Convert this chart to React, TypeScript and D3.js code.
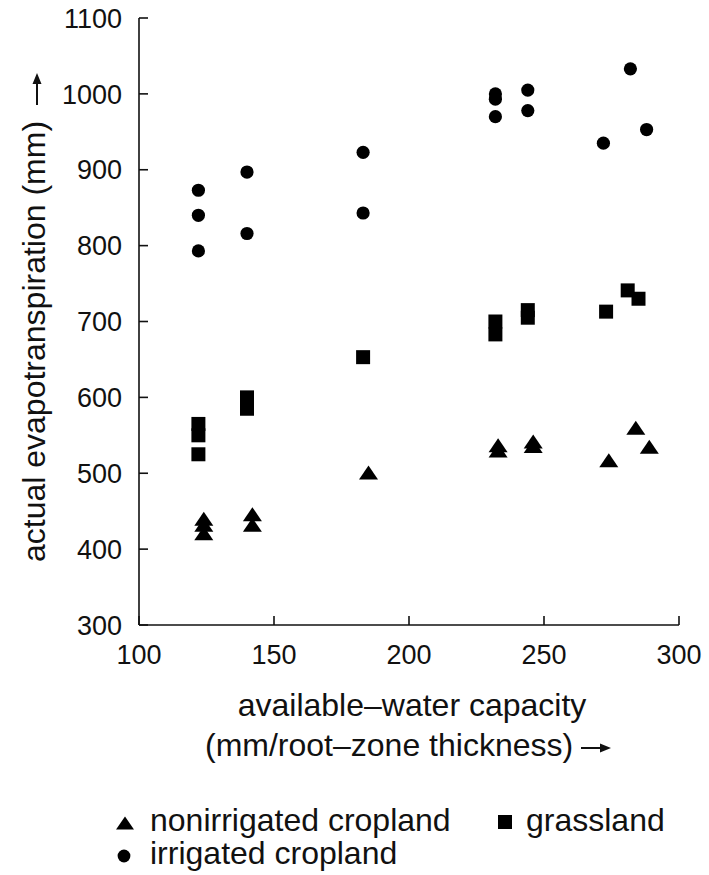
import React from "react";
import * as d3 from "d3";

const nonirrigatedX = [124, 124, 124, 142, 142, 185, 233, 233, 246, 246, 274, 284, 289];
const nonirrigatedY = [440, 432, 421, 446, 432, 501, 537, 530, 542, 536, 517, 560, 535];
const grasslandX = [122, 122, 122, 140, 140, 183, 232, 232, 244, 244, 273, 281, 285];
const grasslandY = [565, 550, 525, 600, 585, 653, 700, 683, 715, 705, 713, 741, 730];
const irrigatedX = [122, 122, 122, 140, 140, 183, 183, 232, 232, 232, 244, 244, 272, 282, 288];
const irrigatedY = [873, 840, 793, 897, 816, 923, 843, 1000, 993, 970, 1005, 978, 935, 1033, 953];

const xTicks = [100, 150, 200, 250, 300];
const yTicks = [300, 400, 500, 600, 700, 800, 900, 1000, 1100];

const W = 709, H = 875;
const FONT = "'Liberation Sans', Arial, Helvetica, sans-serif";

const x = d3.scaleLinear().domain([100, 300]).range([139, 679]);
const y = d3.scaleLinear().domain([300, 1100]).range([625, 18]);

function flatTriangle(w: number, h: number) {
  return {
    draw(ctx: any) {
      ctx.moveTo(0, -h / 2);
      ctx.lineTo(w / 2, h / 2);
      ctx.lineTo(-w / 2, h / 2);
      ctx.closePath();
    },
  };
}

const triPath = d3.symbol().type(flatTriangle(19, 14) as any)() as string;
const sqPath = d3.symbol().type(d3.symbolSquare).size(14 * 14)() as string;
const circPath = d3.symbol().type(d3.symbolCircle).size(Math.PI * 6.6 * 6.6)() as string;
const triLeg = d3.symbol().type(flatTriangle(18, 13) as any)() as string;
const sqLeg = d3.symbol().type(d3.symbolSquare).size(14 * 14)() as string;
const circLeg = d3.symbol().type(d3.symbolCircle).size(Math.PI * 6.4 * 6.4)() as string;

// arrow pointing right, starting at (0,0), of given length
function arrowRight(len: number) {
  const p = d3.path();
  p.moveTo(0, -1);
  p.lineTo(len - 11, -1);
  p.lineTo(len - 11, -4.5);
  p.lineTo(len, 0);
  p.lineTo(len - 11, 4.5);
  p.lineTo(len - 11, 1);
  p.lineTo(0, 1);
  p.closePath();
  return p.toString();
}

export default function App() {
  const fs = 27;
  const ft = 32;
  return (
    <svg width={W} height={H} style={{ position: "absolute", left: 0, top: 0, background: "#fff" }} fontFamily={FONT}>
      <rect x={0} y={0} width={W} height={H} fill="#fff" />
      {/* axes */}
      <g stroke="#111" strokeWidth={1.6} fill="none">
        <line x1={x(100)} x2={x(300)} y1={y(300)} y2={y(300)} />
        <line x1={x(100)} x2={x(100)} y1={y(300)} y2={y(1100)} />
        {xTicks.map((t) => (
          <line key={"xt" + t} x1={x(t)} x2={x(t)} y1={y(300)} y2={y(300) - 9} />
        ))}
        {yTicks.map((t) => (
          <line key={"yt" + t} x1={x(100)} x2={x(100) + 9} y1={y(t)} y2={y(t)} />
        ))}
      </g>
      {xTicks.map((t) => (
        <text key={"xl" + t} x={x(t)} y={664} fontSize={fs} textAnchor="middle" fill="#111">
          {t}
        </text>
      ))}
      {yTicks.map((t) => (
        <text key={"yl" + t} x={122} y={y(t)} dy="0.36em" fontSize={fs} textAnchor="end" fill="#111">
          {t}
        </text>
      ))}
      {/* axis titles */}
      <text x={412} y={716} fontSize={ft} textAnchor="middle" fill="#111">
        available–water capacity
      </text>
      <text x={205} y={756} fontSize={ft} textAnchor="start" fill="#111">
        (mm/root–zone thickness)
      </text>
      <path d={arrowRight(30)} transform="translate(581,748)" fill="#111" />
      <text
        transform={`translate(45, 562) rotate(-90)`}
        fontSize={ft}
        textAnchor="start"
        fill="#111"
      >
        actual evapotranspiration (mm)
      </text>
      <path d={arrowRight(32)} transform="translate(37,105) rotate(-90)" fill="#111" />
      {/* points */}
      <g fill="#000">
        {irrigatedX.map((v, i) => (
          <path key={"c" + i} d={circPath} transform={`translate(${x(v)},${y(irrigatedY[i])})`} />
        ))}
        {grasslandX.map((v, i) => (
          <path key={"s" + i} d={sqPath} transform={`translate(${x(v)},${y(grasslandY[i])})`} />
        ))}
        {nonirrigatedX.map((v, i) => (
          <path key={"t" + i} d={triPath} transform={`translate(${x(v)},${y(nonirrigatedY[i])})`} />
        ))}
      </g>
      {/* legend */}
      <g fill="#000">
        <path d={triLeg} transform="translate(125,823)" />
        <text x={150} y={831} fontSize={ft} fill="#111">nonirrigated cropland</text>
        <path d={sqLeg} transform="translate(505,822)" />
        <text x={526} y={831} fontSize={ft} fill="#111">grassland</text>
        <path d={circLeg} transform="translate(124,856)" />
        <text x={150} y={864} fontSize={ft} fill="#111">irrigated cropland</text>
      </g>
    </svg>
  );
}
